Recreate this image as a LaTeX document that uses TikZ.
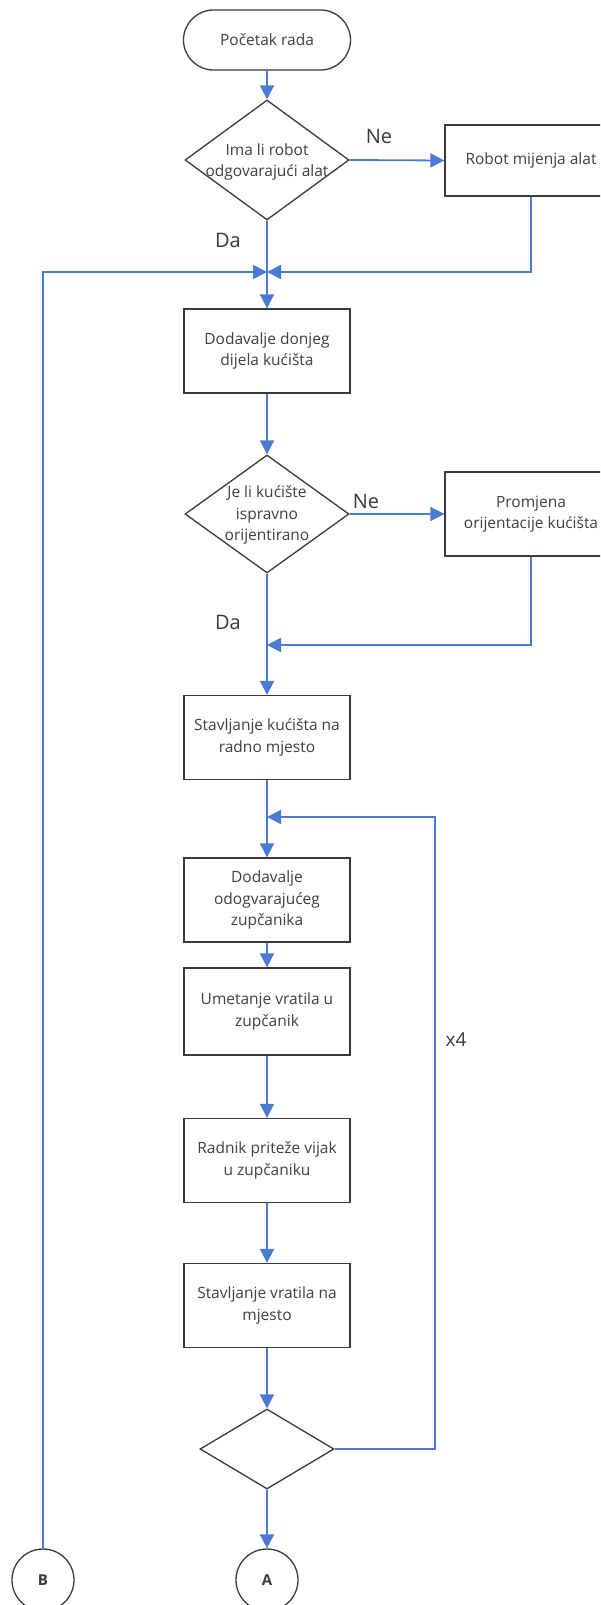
\documentclass[tikz,border=0pt]{standalone}
\usepackage{fontspec}
\setmainfont{Open Sans}
\usetikzlibrary{shapes.geometric,arrows.meta}
\definecolor{lineblue}{HTML}{4A7BD0}
\definecolor{boxgray}{HTML}{3A3A3A}
\definecolor{txtgray}{HTML}{404040}
\begin{document}
\begin{tikzpicture}[x=1pt,y=-1pt,
  box/.style={draw=boxgray, line width=1.3pt, rectangle, minimum width=166pt, minimum height=84pt, inner sep=2pt, align=center, font=\fontsize{15.5}{21.5}\selectfont, text=txtgray},
  sidebox/.style={box, minimum width=172pt},
  term/.style={draw=boxgray, line width=1.3pt, rectangle, rounded corners=30pt, minimum width=167pt, minimum height=60pt, font=\fontsize{15.5}{21.5}\selectfont, text=txtgray},
  dia/.style={draw=boxgray, line width=1.3pt, diamond, inner sep=0pt},
  dtext/.style={align=center, font=\fontsize{15.5}{20.5}\selectfont, text=txtgray, inner sep=0pt},
  circ/.style={draw=boxgray, line width=1.3pt, circle, minimum size=62pt, inner sep=0pt, font=\fontsize{15}{17}\selectfont\bfseries, text=boxgray},
  conn/.style={draw=lineblue, line width=1.8pt, -{Triangle[length=14pt,width=14pt]}},
  lbl/.style={font=\fontsize{20}{24}\selectfont, text=boxgray, inner sep=0pt},
]
\clip (0,0) rectangle (600,1605);
\fill[white] (0,0) rectangle (600,1605);

% nodes
\node[term] (start) at (267,40) {Početak rada};
\node[dia, minimum width=164pt, minimum height=120pt] (d1) at (267,160) {};
\node[dtext] (d1t) at (267,162) {Ima li robot\\odgovarajući alat};
\node[sidebox, minimum height=71pt] (r1) at (531,160.5) {Robot mijenja alat};
\node[box] (b1) at (267,351) {Dodavalje donjeg\\dijela kućišta};
\node[dia, minimum width=164pt, minimum height=118pt] (d2) at (267,514) {};
\node[dtext, font=\fontsize{15.5}{21.5}\selectfont] (d2t) at (267,515) {Je li kućište\\ispravno\\orijentirano};
\node[sidebox, minimum height=84pt] (r2) at (531,514) {Promjena\\orijentacije kućišta};
\node[box] (b2) at (267,737.5) {Stavljanje kućišta na\\radno mjesto};
\node[box] (b3) at (267,900) {Dodavalje\\odogvarajućeg\\zupčanika};
\node[box, minimum height=87pt] (b4) at (267,1011.5) {Umetanje vratila u\\zupčanik};
\node[box] (b5) at (267,1160.5) {Radnik priteže vijak\\u zupčaniku};
\node[box] (b6) at (267,1305.5) {Stavljanje vratila na\\mjesto};
\node[dia, minimum width=134pt, minimum height=80pt] (d3) at (267,1449) {};
\node[circ] (A) at (267,1580) {A};
\node[circ] (B) at (43,1580) {B};

% junction coordinates
\coordinate (j1) at (267,272);
\coordinate (j2) at (267,645);
\coordinate (j3) at (267,817);
\coordinate (loopx) at (435,1449);

% labels
\node[lbl] (ne1) at (379,136) {Ne};
\node[lbl] (da1) at (228,240) {Da};
\node[lbl] (ne2) at (366,501) {Ne};
\node[lbl] (da2) at (228,622) {Da};
\node[lbl, font=\fontsize{19}{22}\selectfont] (x4) at (456,1040) {x4};

% connectors
\draw[conn] (start.south) -- (d1.north);
\draw[conn] (d1.east) -- (r1.west);
\draw[conn] (d1.south) -- (b1.north);
\draw[conn] (r1.south) |- (j1);
\draw[conn] (B.north) |- (j1);
\draw[conn] (b1.south) -- (d2.north);
\draw[conn] (d2.east) -- (r2.west);
\draw[conn] (d2.south) -- (b2.north);
\draw[conn] (r2.south) |- (j2);
\draw[conn] (b2.south) -- (b3.north);
\draw[conn] (d3.east) -- (loopx) |- (j3);
\draw[conn] (b3.south) -- (b4.north);
\draw[conn] (b4.south) -- (b5.north);
\draw[conn] (b5.south) -- (b6.north);
\draw[conn] (b6.south) -- (d3.north);
\draw[conn] (d3.south) -- (A.north);
\end{tikzpicture}
\end{document}
